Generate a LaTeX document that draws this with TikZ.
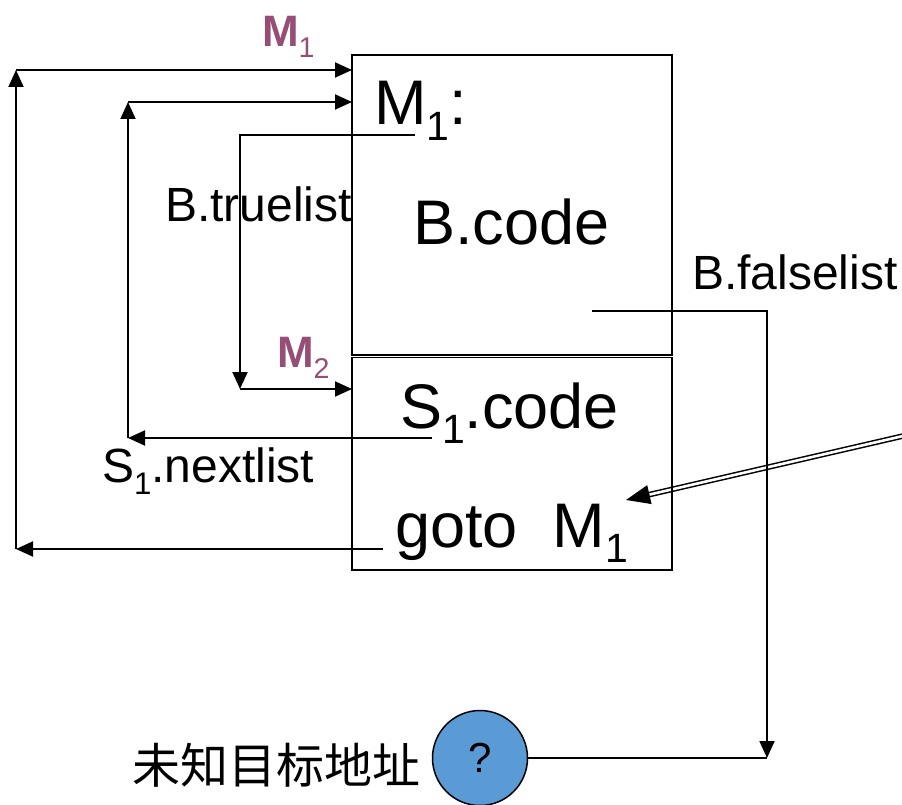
\documentclass[tikz,border=0pt]{standalone}
\usepackage{fontspec}
\setmainfont{Liberation Sans}
\newfontfamily\cjkfont{Noto Sans CJK SC}
\usetikzlibrary{arrows.meta,calc}
\definecolor{labelpurple}{RGB}{150,78,118}
\definecolor{unknownblue}{RGB}{91,155,213}
% lowered, smaller digit used as a subscript
\newcommand\lsub[1]{\raisebox{-0.25em}{\mdseries\scalebox{0.65}{#1}}}
\begin{document}
\begin{tikzpicture}[x=1pt,y=-1pt,
  conn/.style={line width=1.9pt},
  arr/.style={conn,-{Triangle[length=17pt,width=15pt]}},
  txt/.style={anchor=base west,inner sep=0pt,outer sep=0pt},
  big/.style={txt,font=\fontsize{63}{70}\selectfont},
  lab/.style={txt,font=\fontsize{48}{56}\selectfont},
  tag/.style={txt,text=labelpurple,font=\fontsize{44}{50}\selectfont\bfseries},
  codebox/.style={draw,line width=1.5pt,minimum width=320pt,inner sep=0pt,outer sep=0pt,anchor=north west}
]
\useasboundingbox (0,0) rectangle (902,805);

% incoming double arrow pointing at "goto M1"
\coordinate (dblStart) at (903,436);
\coordinate (dblTip) at (626,500);
\draw[line width=1.5pt,double=white,double distance=2.6pt,shorten >=22pt] (dblStart) -- (dblTip);
\draw[line width=1.5pt,-{Triangle[length=24pt,width=19pt]}] ($(dblTip)!24pt!(dblStart)$) -- (dblTip);

% code blocks
\node[codebox,minimum height=300pt] (bblock) at (352,55) {};
\node[codebox,minimum height=212.5pt] (sblock) at (352,357.5) {};

% texts inside the blocks
\node[big] (m1lab) at (374,125) {M\lsub{1}:};
\node[big] (bcode) at (413,244) {B.code};
\node[big] (scode) at (400,428) {S\lsub{1}.code};
\node[big] (gotolab) at (395,547) {goto\hspace{0.556em}M\lsub{1}};

% side labels
\node[tag] (tagA) at (262,47) {M\lsub{1}};
\node[tag] (tagB) at (277,367) {M\lsub{2}};
\node[lab] (truelab) at (165,222) {B.truelist};
\node[lab] (falselab) at (692,289) {B.falselist};
\node[lab] (nextlab) at (102,482) {S\lsub{1}.nextlist};

% unknown target
\node[draw,circle,line width=1.5pt,fill=unknownblue,minimum size=95pt,inner sep=0pt,
      font=\fontsize{42}{48}\selectfont] (unknown) at (480,758) {?};
\node[txt,font=\cjkfont\fontsize{48}{56}\selectfont] (cjklab) at (132,783) {未知目标地址};

% connector end points
\coordinate (gotoEnd) at (383,549);
\coordinate (outerBL) at (16,549);
\coordinate (outerTL) at (16,70);
\coordinate (outerIn) at (bblock.west |- outerTL);
\coordinate (nextEnd) at (432,438);
\coordinate (midBL) at (128,438);
\coordinate (midTL) at (128,102);
\coordinate (midIn) at (bblock.west |- midTL);
\coordinate (trueEnd) at (415,135);
\coordinate (trueBL) at (240,389);
\coordinate (trueIn) at (sblock.west |- trueBL);
\coordinate (falseEnd) at (592,311);
\coordinate (falseBR) at (767,758);

% goto M1 jumps back to the start
\draw[arr] (gotoEnd) -- (outerBL);
\draw[arr] (outerBL) -- (outerTL);
\draw[arr] (outerTL) -- (outerIn);
% S1.nextlist back to M1
\draw[arr] (nextEnd) -- (midBL);
\draw[arr] (midBL) -- (midTL);
\draw[arr] (midTL) -- (midIn);
% B.truelist to M2
\draw[arr] (trueEnd) -| (trueBL);
\draw[arr] (trueBL) -- (trueIn);
% B.falselist to the unknown target
\draw[arr] (falseEnd) -| (falseBR);
\draw[conn] (unknown.east |- falseBR) -- (falseBR);
\end{tikzpicture}
\end{document}
